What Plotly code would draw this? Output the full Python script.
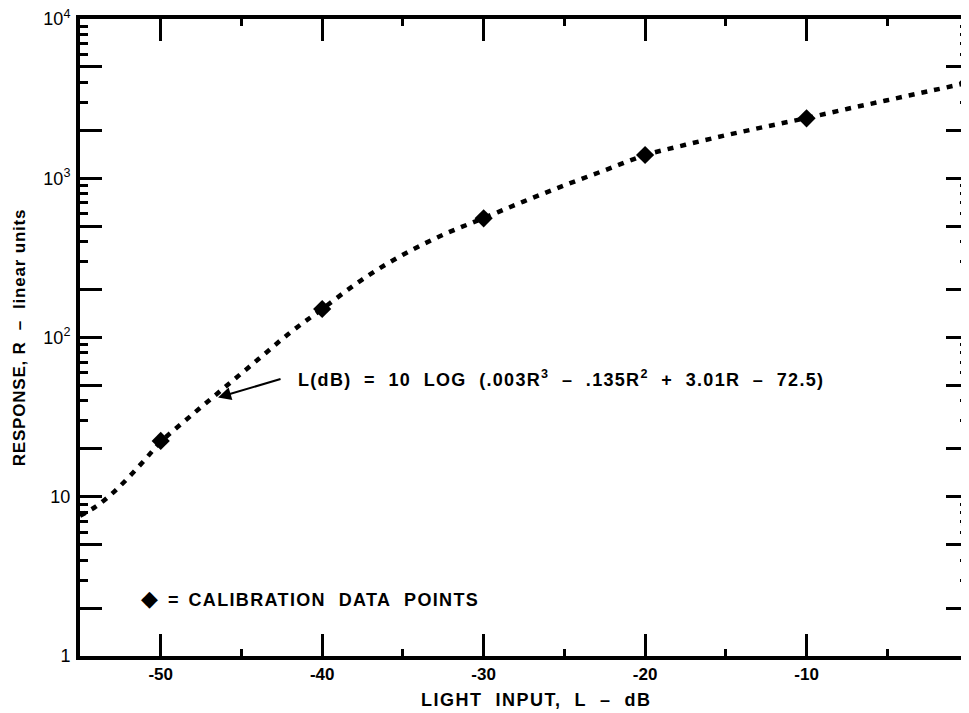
import plotly.graph_objects as go

# Calibration data points (L in dB, response R)
cal_L = [-50, -40, -30, -20, -10, 0]
cal_R = [22.4, 151, 560, 1400, 2380, 4000]

# Fitted curve
curve_L = [-55, -54, -53, -52, -51, -50, -48, -46, -44, -42, -40, -37.5, -35, -32.5,
           -30, -27.5, -25, -22.5, -20, -17.5, -15, -12.5, -10, -7.5, -5, -2.5, 0]
curve_R = [7.6, 8.7, 10.5, 13.2, 17.0, 22.1, 33.1, 49.0, 72.4, 107, 151, 232, 331, 442,
           562, 716, 902, 1122, 1396, 1622, 1862, 2113, 2388, 2723, 3090, 3508, 3981]

# Axis ticks
x_major = [-50, -40, -30, -20, -10, 0]
x_major_text = ["-50", "-40", "-30", "-20", "-10", "0"]
x_minor = [-45, -35, -25, -15, -5]
y_major = [1, 2, 5, 10, 20, 50, 100, 200, 500, 1000, 2000, 5000, 10000]
y_major_text = ["1", "", "", "10", "", "", "10<sup>2</sup>", "", "", "10<sup>3</sup>", "", "", "10<sup>4</sup>"]
y_minor = [3, 4, 6, 7, 8, 9, 30, 40, 60, 70, 80, 90, 300, 400, 600, 700, 800, 900,
           3000, 4000, 6000, 7000, 8000, 9000]

FONT = "Liberation Sans, Arial, sans-serif"
SP = "&nbsp;"


def spaced(s, ls):
    return "<span style='letter-spacing:%spx'>%s</span>" % (ls, s)


fig = go.Figure()
fig.add_trace(go.Scatter(
    x=curve_L, y=curve_R, mode="lines",
    line=dict(color="black", width=4.5, dash="6px,7px", shape="spline", smoothing=1),
    hoverinfo="skip", showlegend=False))
fig.add_trace(go.Scatter(
    x=cal_L, y=cal_R, mode="markers",
    marker=dict(symbol="diamond", size=14, color="black"),
    showlegend=False))

axis_common = dict(
    showline=True, linecolor="black", linewidth=4, mirror="ticks",
    ticks="inside", tickcolor="black", tickwidth=3, ticklen=22,
    showgrid=False, zeroline=False, automargin=False, ticklabeloverflow="allow",
)

fig.update_xaxes(
    **axis_common,
    range=[-55, 0], tickmode="array", tickvals=x_major, ticktext=x_major_text,
    tickfont=dict(family=FONT, size=17, color="black", weight="bold"),
    ticklabelstandoff=0,
    minor=dict(tickmode="array", tickvals=x_minor, ticks="inside", ticklen=7,
               tickwidth=3, tickcolor="black", showgrid=False),
)
fig.update_yaxes(
    **axis_common,
    type="log", range=[0, 4], tickmode="array", tickvals=y_major, ticktext=y_major_text,
    tickfont=dict(family=FONT, size=18, color="black"),
    ticklabelstandoff=2,
    minor=dict(tickmode="array", tickvals=y_minor, ticks="inside", ticklen=8,
               tickwidth=3, tickcolor="black", showgrid=False),
    title=dict(text=spaced("RESPONSE," + SP + "R" + SP * 2 + "–" + SP * 2 + "linear" + SP + "units", 0.8),
               font=dict(family=FONT, size=17, color="black", weight="bold"),
               standoff=14),
)

# X-axis title (placed as an annotation below the axis, slightly right of centre as in the original)
fig.add_annotation(
    x=0.514, y=-0.069, xref="paper", yref="paper", xanchor="center", yanchor="middle",
    text=spaced("LIGHT" + SP * 2 + "INPUT," + SP * 2 + "L" + SP * 2 + "–" + SP * 2 + "dB", 1.5),
    showarrow=False, font=dict(family=FONT, size=18, color="black", weight="bold"))

# Formula annotation with arrow
fig.add_annotation(
    x=-46.45, y=1.623, xref="x", yref="y", text="",
    showarrow=True, ax=64, ay=-19, arrowhead=2, arrowsize=1.3, arrowwidth=2,
    arrowcolor="black", standoff=0)
g = SP * 2
fig.add_annotation(
    x=-41.6, y=1.742, xref="x", yref="y", xanchor="left", yanchor="middle",
    text=spaced("L(dB)" + g + "=" + g + "10" + g + "LOG" + g + "(.003R<sup>3</sup>" + g + "–" + g
                + ".135R<sup>2</sup>" + g + "+" + g + "3.01R" + g + "–" + g + "72.5)", 1.3),
    showarrow=False, font=dict(family=FONT, size=18, color="black", weight="bold"))

# Legend-style note
fig.add_annotation(
    x=0.066, y=0.091, xref="paper", yref="paper", xanchor="left", yanchor="middle",
    text=("<span style='font-family:DejaVu Sans;font-size:22px'>◆</span>" + SP * 2 + "="
          + SP * 2 + spaced("CALIBRATION" + g + "DATA" + g + "POINTS", 1.35)),
    showarrow=False, font=dict(family=FONT, size=18, color="black", weight="bold"))

# The page adds an 8px body margin, so margins are shifted to place the plot area
fig.update_layout(
    width=969, height=713,
    margin=dict(l=72, r=9, t=11, b=65),
    paper_bgcolor="white", plot_bgcolor="white",
    font=dict(family=FONT, color="black"),
)

fig.write_html("out.html")
